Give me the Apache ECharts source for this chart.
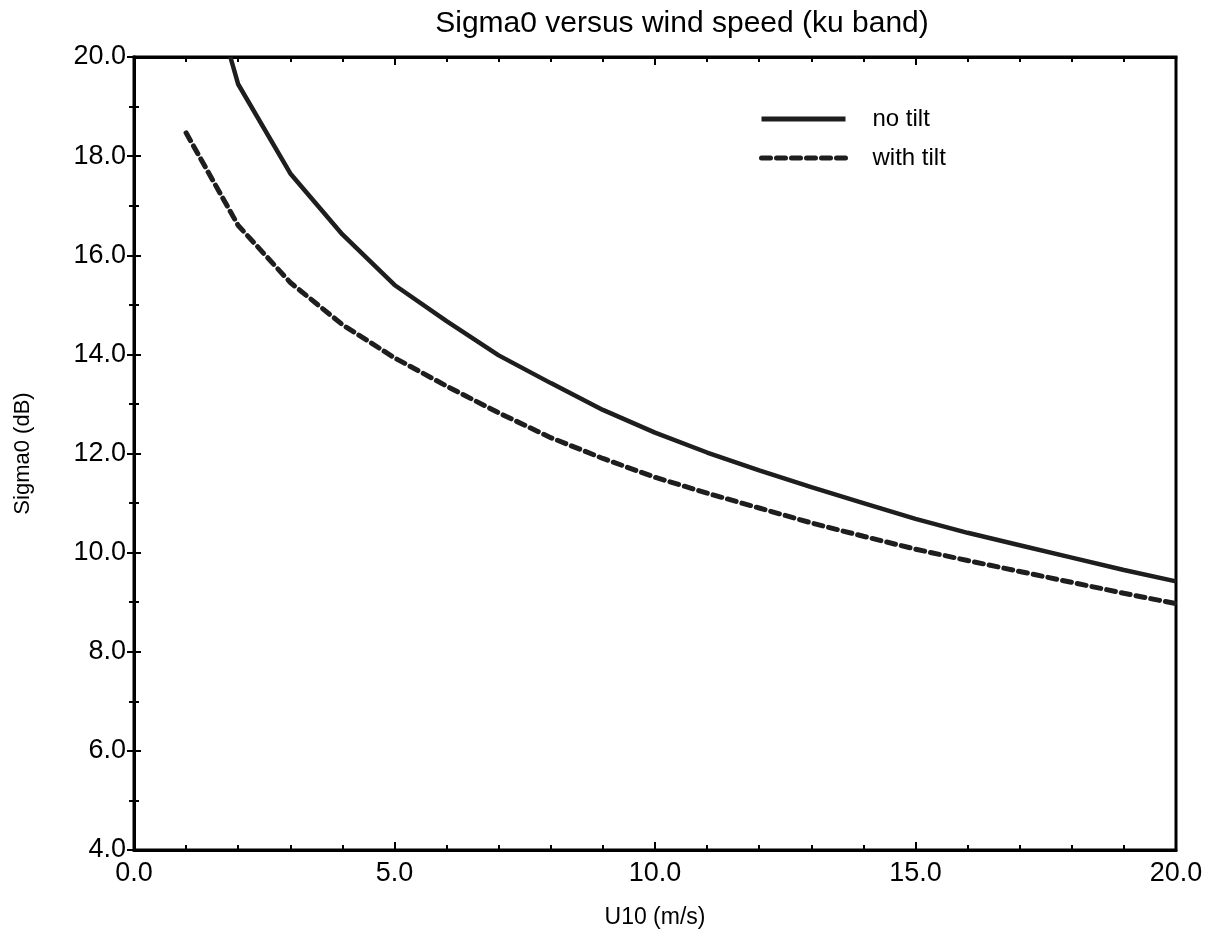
<!DOCTYPE html>
<html>
<head>
<meta charset="utf-8">
<script src="https://cdn.jsdelivr.net/npm/echarts@6/dist/echarts.min.js"></script>
<style>
html,body{margin:0;padding:0;background:#fff;}
#chart{width:1212px;height:932px;}
</style>
</head>
<body>
<div id="chart"></div>
<script>
// ---- data ----
const noTiltU10 = [1.85, 2, 3, 4, 5, 6, 7, 8, 9, 10, 11, 12, 13, 14, 15, 16, 17, 18, 19, 20];
const noTiltSigma0 = [20.0, 19.45, 17.65, 16.42, 15.4, 14.67, 13.98, 13.42, 12.88, 12.42, 12.02, 11.66, 11.32, 11.0, 10.68, 10.4, 10.15, 9.9, 9.65, 9.42];
const withTiltU10 = [1, 2, 3, 4, 5, 6, 7, 8, 9, 10, 11, 12, 13, 14, 15, 16, 17, 18, 19, 20];
const withTiltSigma0 = [18.47, 16.6, 15.45, 14.6, 13.93, 13.36, 12.82, 12.32, 11.9, 11.52, 11.2, 10.9, 10.6, 10.33, 10.07, 9.84, 9.62, 9.4, 9.18, 8.97];
const seriesNames = ['no tilt', 'with tilt'];
const titleText = 'Sigma0 versus wind speed (ku band)';
const xName = 'U10 (m/s)';
const yName = 'Sigma0 (dB)';

const FONT = 'Liberation Sans, Arial, Helvetica, sans-serif';
const chart = echarts.init(document.getElementById('chart'), null, {renderer: 'canvas'});

function zip(a, b) { return a.map((v, i) => [v, b[i]]); }

const tickStyle = {color: '#000', width: 2};
const option = {
  backgroundColor: '#fff',
  animation: false,
  title: {
    text: titleText,
    left: 677, top: 4, textAlign: 'center',
    textStyle: {fontFamily: FONT, fontSize: 30, fontWeight: 'normal', color: '#000'}
  },
  legend: {
    left: 754, top: 102, orient: 'vertical',
    itemWidth: 84, itemHeight: 14, itemGap: 15,
    itemStyle: {opacity: 0},
    lineStyle: {width: 5},
    textStyle: {fontFamily: FONT, fontSize: 24, color: '#000', padding: [0, 0, 0, 22]},
    data: seriesNames
  },
  grid: {left: 134, right: 36, top: 57, bottom: 82, outerBoundsMode: 'none', containLabel: false,
    show: true, borderColor: '#000', borderWidth: 3, backgroundColor: 'transparent'},
  xAxis: [{
    type: 'value', min: 0, max: 20, interval: 5,
    name: xName, nameLocation: 'middle', nameGap: 56,
    nameTextStyle: {fontFamily: FONT, fontSize: 23, color: '#000'},
    axisLine: {show: true, lineStyle: {color: '#000', width: 3}},
    axisTick: {show: true, inside: true, length: 8, lineStyle: tickStyle},
    minorTick: {show: true, splitNumber: 5, length: 5, lineStyle: tickStyle},
    axisLabel: {fontFamily: FONT, fontSize: 27, color: '#000', margin: 10, formatter: v => v.toFixed(1)},
    splitLine: {show: false}
  }, {
    type: 'value', min: 0, max: 20, interval: 5, position: 'top',
    axisLine: {show: true, lineStyle: {color: '#000', width: 3}},
    axisTick: {show: true, inside: true, length: 8, lineStyle: tickStyle},
    minorTick: {show: true, splitNumber: 5, length: 5, lineStyle: tickStyle},
    axisLabel: {show: false}, splitLine: {show: false}
  }],
  yAxis: [{
    type: 'value', min: 4, max: 20, interval: 2,
    name: yName, nameLocation: 'middle', nameGap: 100, nameRotate: 90,
    nameTextStyle: {fontFamily: FONT, fontSize: 22, color: '#000'},
    axisLine: {show: true, lineStyle: {color: '#000', width: 3}},
    axisTick: {show: true, inside: true, length: 7, lineStyle: tickStyle},
    minorTick: {show: true, splitNumber: 2, length: 5, lineStyle: tickStyle},
    axisLabel: {fontFamily: FONT, fontSize: 27, color: '#000', margin: 8, formatter: v => v.toFixed(1)},
    splitLine: {show: false}
  }, {
    type: 'value', min: 4, max: 20, interval: 2, position: 'right',
    axisLine: {show: true, lineStyle: {color: '#000', width: 3}},
    axisTick: {show: true, inside: true, length: 7, lineStyle: tickStyle},
    minorTick: {show: true, splitNumber: 2, length: 5, lineStyle: tickStyle},
    axisLabel: {show: false}, splitLine: {show: false}
  }],
  series: [{
    name: seriesNames[0], type: 'line', symbol: 'none', smooth: false,
    data: zip(noTiltU10, noTiltSigma0),
    lineStyle: {color: '#1e1e1e', width: 4.5},
    itemStyle: {color: '#1e1e1e'}
  }, {
    name: seriesNames[1], type: 'line', symbol: 'none', smooth: false,
    data: zip(withTiltU10, withTiltSigma0),
    lineStyle: {color: '#1e1e1e', width: 5, type: [9, 6], cap: 'round'},
    itemStyle: {color: '#1e1e1e'}
  }]
};
chart.setOption(option);
</script>
</body>
</html>
